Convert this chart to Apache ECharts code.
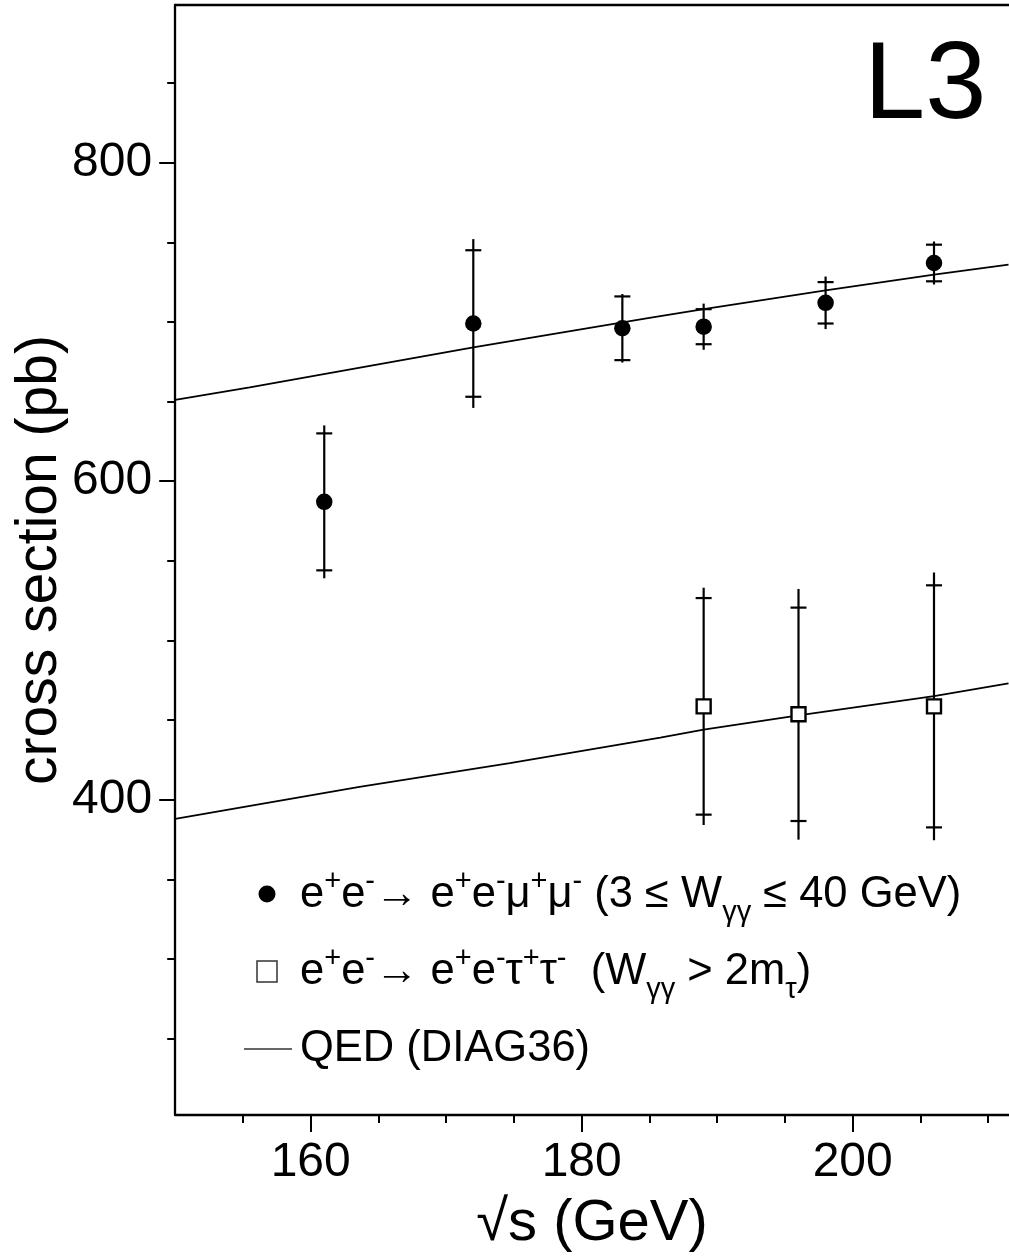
<!DOCTYPE html>
<html>
<head>
<meta charset="utf-8">
<script src="https://cdn.jsdelivr.net/npm/echarts@6/dist/echarts.min.js"></script>
<style>
html,body{margin:0;padding:0;background:#fff;overflow:hidden;}
#chart{width:1009px;height:1256px;}
</style>
</head>
<body>
<div id="chart"></div>
<script>
// ---- data ----
const muX    = [161, 172, 183, 189, 198, 206];
const muY    = [587, 699, 696, 697, 712, 737];
const muStat = [43, 46, 20, 11, 13, 11.5];
const muTot  = [48, 53, 21.5, 14.5, 16.5, 13.5];

const tauX    = [189, 196, 206];
const tauY    = [458.6, 453.6, 458.6];
const tauStat = [68, 67, 76];
const tauTot  = [74.5, 78.7, 84];

const qedMuX  = [150, 155.5, 172, 185, 189, 198, 206, 211.5];
const qedMuY  = [651, 658.9, 684, 702.5, 708.1, 719.8, 729.7, 736];
const qedTauX = [150, 163.6, 174.7, 185.8, 189, 196, 206, 211.5];
const qedTauY = [388, 408, 423, 439, 444, 453, 465, 473];

const xMajor = [160, 180, 200];
const xMinor = [155, 165, 170, 175, 185, 190, 195, 205, 210];
const yMajor = [400, 600, 800];
const yMinor = [250, 300, 350, 450, 500, 550, 650, 700, 750, 850];

const X_MIN = 150, X_MAX = 215, Y_MIN = 202, Y_MAX = 899;

// ---- build ----
const FONT = 'Liberation Sans';
const chart = echarts.init(document.getElementById('chart'), null, {renderer: 'canvas'});

function errRender(params, api) {
  const x = api.value(0), y = api.value(1), s = api.value(2), t = api.value(3);
  const top = api.coord([x, y + t]), bot = api.coord([x, y - t]);
  const sTop = api.coord([x, y + s]), sBot = api.coord([x, y - s]);
  const hw = 8;
  const st = {stroke: '#000', lineWidth: 2.2};
  return {type: 'group', children: [
    {type: 'line', shape: {x1: top[0], y1: top[1], x2: bot[0], y2: bot[1]}, style: st},
    {type: 'line', shape: {x1: sTop[0] - hw, y1: sTop[1], x2: sTop[0] + hw, y2: sTop[1]}, style: st},
    {type: 'line', shape: {x1: sBot[0] - hw, y1: sBot[1], x2: sBot[0] + hw, y2: sBot[1]}, style: st}
  ]};
}

const muErr  = muX.map((x, i) => [x, muY[i], muStat[i], muTot[i]]);
const tauErr = tauX.map((x, i) => [x, tauY[i], tauStat[i], tauTot[i]]);
const muPts  = muX.map((x, i) => [x, muY[i]]);
const tauPts = tauX.map((x, i) => [x, tauY[i]]);
const qedMu  = qedMuX.map((x, i) => [x, qedMuY[i]]);
const qedTau = qedTauX.map((x, i) => [x, qedTauY[i]]);

const axLine = {show: true, lineStyle: {color: '#000', width: 2.3}};
const lblStyle = {color: '#000', fontFamily: FONT, fontSize: 48};

const sup = {fontFamily: FONT, fontSize: 29, color: '#000', padding: [0, 0, 27, 0], verticalAlign: 'middle'};
const sub = {fontFamily: FONT, fontSize: 29, color: '#000', padding: [36, 0, 0, 0], verticalAlign: 'middle'};
const mainR = {fontFamily: FONT, fontSize: 43.5, color: '#000', verticalAlign: 'middle'};

const option = {
  animation: false,
  backgroundColor: '#fff',
  grid: {left: 175.2, top: 5, width: (X_MAX - X_MIN) * 13.55, height: 1110,
         containLabel: false, outerBoundsMode: 'none'},
  xAxis: [
    {type: 'value', min: X_MIN, max: X_MAX, position: 'bottom',
     axisLine: axLine, splitLine: {show: false},
     axisTick: {show: true, customValues: xMajor, length: 17, lineStyle: {color: '#000', width: 2}},
     axisLabel: Object.assign({show: true, customValues: xMajor, margin: 24}, lblStyle)},
    {type: 'value', min: X_MIN, max: X_MAX, position: 'bottom',
     axisLine: {show: false}, splitLine: {show: false},
     axisTick: {show: true, customValues: xMinor, length: 8, lineStyle: {color: '#000', width: 2}},
     axisLabel: {show: false}},
    {type: 'value', min: X_MIN, max: X_MAX, position: 'top',
     axisLine: axLine, splitLine: {show: false}, axisTick: {show: false}, axisLabel: {show: false}}
  ],
  yAxis: [
    {type: 'value', min: Y_MIN, max: Y_MAX, position: 'left',
     axisLine: axLine, splitLine: {show: false},
     axisTick: {show: true, customValues: yMajor, length: 16, lineStyle: {color: '#000', width: 2}},
     axisLabel: Object.assign({show: true, customValues: yMajor, margin: 23}, lblStyle)},
    {type: 'value', min: Y_MIN, max: Y_MAX, position: 'left', offset: 0,
     axisLine: {show: false}, splitLine: {show: false},
     axisTick: {show: true, customValues: yMinor, length: 8, lineStyle: {color: '#000', width: 2}},
     axisLabel: {show: false}}
  ],
  series: [
    {type: 'line', data: qedMu, showSymbol: false, symbol: 'none', lineStyle: {color: '#000', width: 1.8}, z: 2, silent: true},
    {type: 'line', data: qedTau, showSymbol: false, symbol: 'none', lineStyle: {color: '#000', width: 1.8}, z: 2, silent: true},
    {type: 'custom', data: muErr, renderItem: errRender, encode: {x: 0, y: 1}, z: 3, silent: true},
    {type: 'custom', data: tauErr, renderItem: errRender, encode: {x: 0, y: 1}, z: 3, silent: true},
    {type: 'scatter', data: muPts, symbol: 'circle', symbolSize: 16.5, itemStyle: {color: '#000', opacity: 1}, z: 5, silent: true},
    {type: 'scatter', data: tauPts, symbol: 'rect', symbolSize: 14, itemStyle: {color: '#fff', borderColor: '#000', borderWidth: 2.4, opacity: 1}, z: 5, silent: true}
  ],
  graphic: [
    {type: 'text', x: 864, y: 88, style: {text: 'L3', fontFamily: FONT, fontSize: 110, fill: '#000', align: 'left', verticalAlign: 'middle'}},
    {type: 'text', x: 592, y: 1224, style: {text: '√s (GeV)', fontFamily: FONT, fontSize: 58, fill: '#000', align: 'center', verticalAlign: 'middle'}},
    {type: 'text', x: 40, y: 560, rotation: Math.PI / 2, style: {text: 'cross section (pb)', fontFamily: FONT, fontSize: 57, fill: '#000', align: 'center', verticalAlign: 'middle'}},
    // legend symbols
    {type: 'circle', shape: {cx: 267, cy: 894, r: 8.5}, style: {fill: '#000'}},
    {type: 'rect', shape: {x: 257, y: 961, width: 20, height: 21}, style: {fill: '#fff', stroke: '#333', lineWidth: 1.5}},
    {type: 'line', shape: {x1: 244, y1: 1049, x2: 292, y2: 1049}, style: {stroke: '#333', lineWidth: 1.5}},
    // legend texts
    {type: 'text', x: 300, y: 895, style: {
      text: '{m|e}{p|+}{m|e}{p|-}{m|→ e}{p|+}{m|e}{p|-}{m|μ}{p|+}{m|μ}{p|-}{m| (3 ≤ W}{b|γγ}{m| ≤ 40 GeV)}',
      rich: {m: mainR, p: sup, b: sub}, align: 'left', verticalAlign: 'middle'}},
    {type: 'text', x: 300, y: 972, style: {
      text: '{m|e}{p|+}{m|e}{p|-}{m|→ e}{p|+}{m|e}{p|-}{m|τ}{p|+}{m|τ}{p|-}{m|  (W}{b|γγ}{m| > 2m}{b|τ}{m|)}',
      rich: {m: mainR, p: sup, b: sub}, align: 'left', verticalAlign: 'middle'}},
    {type: 'text', x: 300, y: 1049, style: {
      text: 'QED (DIAG36)', fontFamily: FONT, fontSize: 43.5, fill: '#000', align: 'left', verticalAlign: 'middle'}}
  ]
};
chart.setOption(option);
</script>
</body>
</html>
